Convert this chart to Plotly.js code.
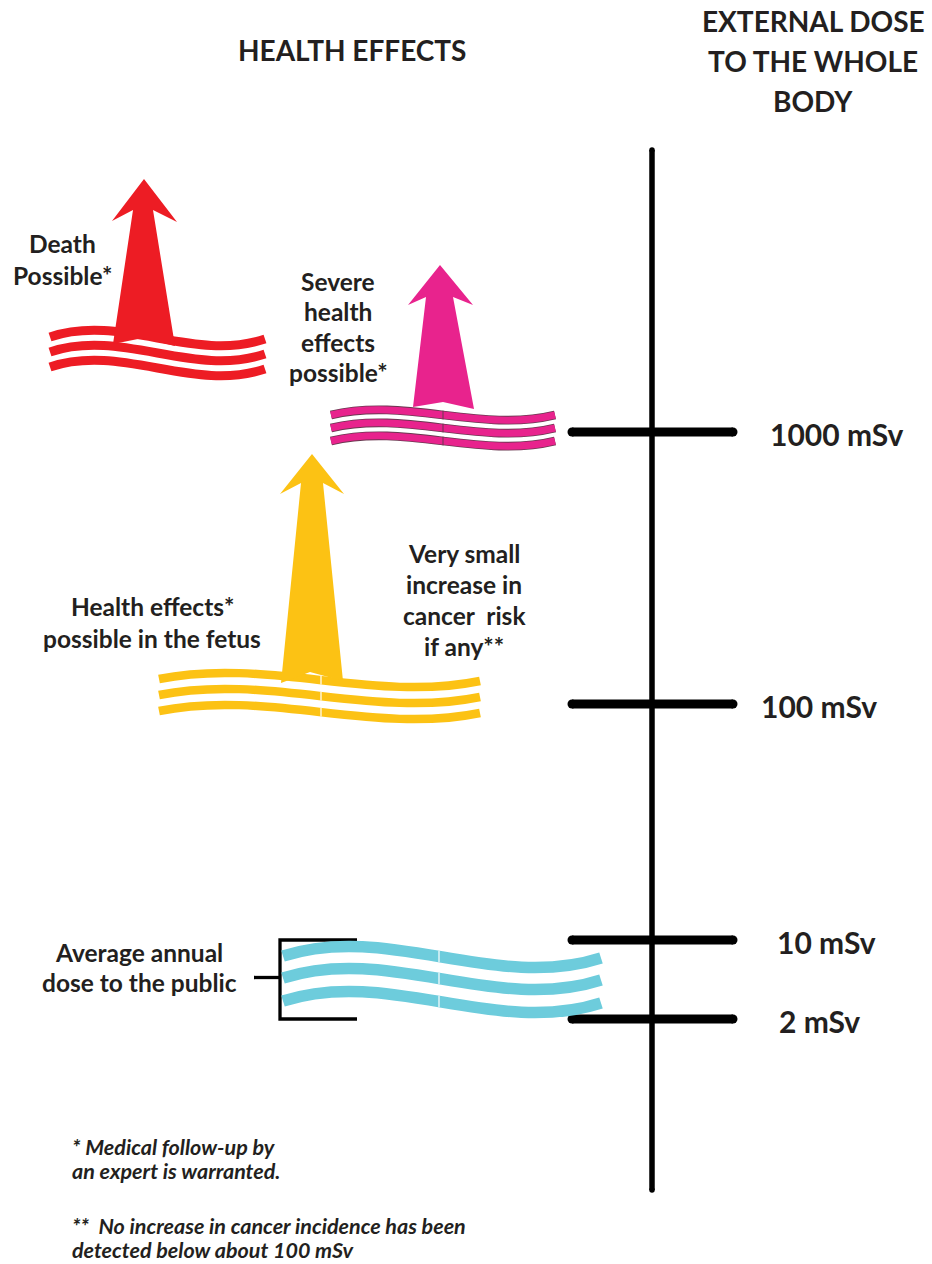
<!DOCTYPE html>
<html><head><meta charset="utf-8">
<script src="https://cdn.plot.ly/plotly-3.0.1.min.js"></script>
<style>html,body{margin:0;padding:0;background:#fff;}#chart{width:932px;height:1264px;}</style>
</head><body><div id="chart"></div>
<script>
// ---------------- data ----------------
const doseValues = [1000, 100, 10, 2];
const doseLabels = ['1000 mSv', '100 mSv', '10 mSv', '2 mSv'];
const publicDoseRange = [10, 2];
const titleLeft = 'HEALTH EFFECTS';
const titleRight = 'EXTERNAL DOSE<br>TO THE WHOLE<br>BODY';
const effectTexts = [
  'Death<br>Possible*',
  'Severe<br>health<br>effects<br>possible*',
  'Health effects*<br>possible in the fetus',
  'Very small<br>increase in<br>cancer\u00a0 risk<br>if any**',
  'Average annual<br>dose to the public'
];
const footnoteTexts = [
  '* Medical follow-up by<br>an expert is warranted.',
  '**\u00a0 No increase in cancer incidence has been<br>detected below about 100 mSv'
];

// ---------------- layout / geometry ----------------
const W = 932, H = 1264;
const doseY = {1000: 432, 100: 704, 10: 940, 2: 1019};
const doseLabelX = [837, 819, 826, 819];
const axisX = 652, axisTop = 150, axisBottom = 1190;
const tickX0 = 572, tickX1 = 733;
const FONT = 'Lato, "Open Sans", "Noto Sans", sans-serif';
const TXT = '#231f20';

const effectPos = [[62, 259], [338, 327], [152, 622], [464, 600], [139, 967]];
const effectGap = [32, 30.5, 32, 31, 30];
const footPos = [[70, 1159], [70, 1238]];

const COLORS = {red: '#ed1c24', pink: '#e8238d', yellow: '#fcc214', blue: '#6dccdc'};

function wavePath(x0, x1, yL, yR, h) {
  const L = x1 - x0;
  return `M${x0},${yL} C${x0 + L / 3},${yL - h} ${x0 + 2 * L / 3},${yR + h} ${x1},${yR}`;
}
function waveY(x0, x1, yL, yR, h, x) {
  const t = (x - x0) / (x1 - x0), u = 1 - t;
  return u * u * u * yL + 3 * u * u * t * (yL - h) + 3 * u * t * t * (yR + h) + t * t * t * yR;
}

const waves = [
  {x0: 50, x1: 265, ys: [337, 352, 367], dR: 2, h: 24, w: 9, color: COLORS.red},
  {x0: 331, x1: 555, ys: [415, 428, 441], dR: 0, h: 18, w: 7, color: COLORS.pink, outline: '#6a3850', seam: 443},
  {x0: 159, x1: 480, ys: [679, 695, 711], dR: 2, h: 22, w: 8.5, color: COLORS.yellow, seam: 321, seamColor: '#ffffff'},
  {x0: 283, x1: 601, ys: [956, 978, 1001], dR: 2, h: 34, w: 11.5, color: COLORS.blue, seam: 439, seamColor: '#ffffff'}
];

const arrows = [
  {color: COLORS.red, pts: [[144,179],[177,222],[153,210],[175,346],[143,338],[113,344],[133,210],[112,221]]},
  {color: COLORS.pink, pts: [[440,265],[473,305],[453,297],[474,409],[443,402],[413,407],[426,297],[408,305]]},
  {color: COLORS.yellow, pts: [[312,454],[344,494],[323,483],[343,681],[310,672],[281,683],[301,483],[280,494]]}
];

const shapes = [];
waves.forEach(g => {
  g.ys.forEach(y => {
    const p = wavePath(g.x0, g.x1, y, y + g.dR, g.h);
    if (g.outline) {
      shapes.push({type: 'path', xref: 'x', yref: 'y', path: p, line: {color: g.outline, width: g.w + 1.8}});
    }
    shapes.push({type: 'path', xref: 'x', yref: 'y', path: p, line: {color: g.color, width: g.w}});
    if (g.seam) {
      const ys = waveY(g.x0, g.x1, y, y + g.dR, g.h, g.seam);
      const half = (g.w + (g.outline ? 1.8 : 0)) / 2;
      shapes.push({type: 'line', xref: 'x', yref: 'y', x0: g.seam, x1: g.seam, y0: ys - half, y1: ys + half,
        line: {color: g.seamColor || g.outline, width: g.seamColor ? 1.2 : 1}});
    }
  });
});
arrows.forEach(a => {
  const d = 'M' + a.pts.map(p => p[0] + ',' + p[1]).join(' L') + ' Z';
  shapes.push({type: 'path', xref: 'x', yref: 'y', path: d, fillcolor: a.color, line: {width: 0}});
});

// ---------------- traces ----------------
const traces = [];
traces.push({type: 'scatter', mode: 'lines+markers', x: [axisX, axisX], y: [axisTop, axisBottom],
  line: {color: '#000', width: 5.5}, marker: {color: '#000', size: 5.5}, hoverinfo: 'skip'});
const tx = [], ty = [];
doseValues.forEach(v => { tx.push(tickX0, tickX1, null); ty.push(doseY[v], doseY[v], null); });
traces.push({type: 'scatter', mode: 'lines', x: tx, y: ty, line: {color: '#000', width: 9}, hoverinfo: 'skip', connectgaps: false});
const ex = [], ey = [];
doseValues.forEach(v => { ex.push(tickX0, tickX1); ey.push(doseY[v], doseY[v]); });
traces.push({type: 'scatter', mode: 'markers', x: ex, y: ey, marker: {color: '#000', size: 9}, hoverinfo: 'skip'});
const bTop = doseY[publicDoseRange[0]], bBot = doseY[publicDoseRange[1]];
const bx = 280, bx1 = 357, stubX = 254;
traces.push({type: 'scatter', mode: 'lines', x: [bx1, bx, bx, bx1, null, stubX, bx], y: [bTop, bTop, bBot, bBot, null, (bTop + bBot) / 2 - 2, (bTop + bBot) / 2 - 2],
  line: {color: '#000', width: 3.3}, hoverinfo: 'skip'});

// ---------------- annotations ----------------
const ann = [];
const boldFont = (size) => ({family: FONT, size: size, color: TXT, weight: 700});
function addLines(text, x, yc, gap, font, xanchor) {
  const lines = text.split('<br>');
  const y0 = yc - gap * (lines.length - 1) / 2;
  lines.forEach((ln, i) => ann.push({x: x, y: y0 + i * gap, text: ln, font: font, xanchor: xanchor || 'center'}));
}
addLines(titleLeft, 352, 50, 40, boldFont(28));
addLines(titleRight, 813, 61, 40, boldFont(28));
doseValues.forEach((v, i) => ann.push({x: doseLabelX[i], y: doseY[v] + 2, text: doseLabels[i], font: boldFont(30)}));
effectTexts.forEach((t, i) => addLines(t, effectPos[i][0], effectPos[i][1], effectGap[i], boldFont(24.5)));
footnoteTexts.forEach((t, i) => addLines(t, footPos[i][0], footPos[i][1], 24,
  {family: FONT, size: 21.5, color: TXT, weight: 700, style: 'italic'}, 'left'));
ann.forEach(a => { a.xref = 'x'; a.yref = 'y'; a.showarrow = false; a.yanchor = 'middle'; });

const layout = {
  width: W, height: H, margin: {l: 0, r: 0, t: 0, b: 0, pad: 0},
  paper_bgcolor: '#fff', plot_bgcolor: '#fff', showlegend: false,
  xaxis: {range: [0, W], visible: false, fixedrange: true},
  yaxis: {range: [H, 0], visible: false, fixedrange: true},
  shapes: shapes, annotations: ann
};
Plotly.newPlot('chart', traces, layout, {staticPlot: true, displayModeBar: false});
</script></body></html>
